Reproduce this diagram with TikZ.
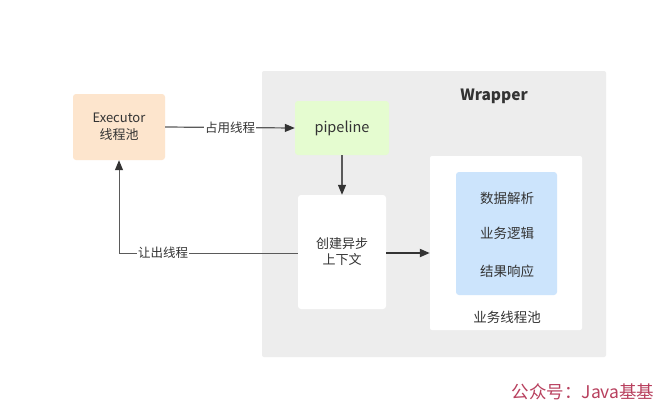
\documentclass[tikz,border=0pt]{standalone}
\usepackage{fontspec}
\setmainfont{Noto Sans CJK SC}
\newfontfamily\wmfont{Noto Sans CJK SC}
\usetikzlibrary{arrows.meta,positioning}
\definecolor{wrapgray}{HTML}{EDEDED}
\definecolor{peach}{HTML}{FDE5CD}
\definecolor{lgreen}{HTML}{E5FCD0}
\definecolor{lblue}{HTML}{CCE4FC}
\definecolor{linegray}{HTML}{5A5A5A}
\definecolor{tipgray}{HTML}{333333}
\definecolor{txt}{HTML}{333333}
\definecolor{wmred}{HTML}{B8405E}
\tikzset{
  x=1pt,y=-1pt,
  box/.style={draw=none,rounded corners=3pt,inner sep=0pt,text=txt,align=center,
    font=\fontsize{13}{17}\selectfont},
  conn/.style={draw=linegray,line width=1.2pt,-{Triangle[length=10pt,width=8pt,color=tipgray]}},
  lbl/.style={fill=white,inner sep=1pt,text=txt,font=\fontsize{12.5}{15}\selectfont},
}
\begin{document}
\begin{tikzpicture}
\useasboundingbox[fill=white] (0,0) rectangle (668,413);
% Wrapper container
\node[box,fill=wrapgray,rounded corners=2pt,minimum width=344pt,minimum height=286pt] (wrap) at (434,214) {};
\node[font=\bfseries\fontsize{15.5}{18}\selectfont,text=txt] (wraplbl) at (494,96) {Wrapper};
% Executor
\node[box,fill=peach,minimum width=92pt,minimum height=66pt] (exec) at (119,127) {Executor\\线程池};
% pipeline
\node[box,fill=lgreen,minimum width=94pt,minimum height=54pt,font=\fontsize{14.5}{17}\selectfont] (pipe) at (342,128) {pipeline};
% async context
\node[box,fill=white,minimum width=88pt,minimum height=114pt] (ctx) at (342,252) {};
\node[text=txt,align=center,font=\fontsize{13}{16}\selectfont] (ctxlbl) at (342,252) {创建异步\\上下文};
% business pool
\node[box,fill=white,rounded corners=2pt,minimum width=152pt,minimum height=174pt] (pool) at (506,243) {};
\node[box,fill=lblue,minimum width=101pt,minimum height=123pt] (biz) at (506.5,233.5) {};
\node[text=txt,font=\fontsize{13.5}{16}\selectfont] (t1) at (507,198) {数据解析};
\node[text=txt,font=\fontsize{13.5}{16}\selectfont] (t2) at (507,233) {业务逻辑};
\node[text=txt,font=\fontsize{13.5}{16}\selectfont] (t3) at (507,271) {结果响应};
\node[text=txt,font=\fontsize{13.5}{16}\selectfont] (poollbl) at (507,317) {业务线程池};
% connectors
\draw[conn] (exec.east) -- node[lbl] (l1) {占用线程} (pipe.west);
\draw[conn] (pipe.south) -- (ctx.north);
\draw[conn,line width=2pt,draw=tipgray] (ctx.east |- 0,253) -- (pool.west |- 0,253);
\coordinate (corner) at (119,253);
\draw[conn,line width=1pt] (ctx.west |- 0,253) -- (corner) -- (exec.south);
\node[lbl] (l2) at (163,253) {让出线程};
% watermark
\node[text=wmred,anchor=east,font=\wmfont\fontsize{17.5}{20}\selectfont] (wm) at (658,392) {公众号：Java基基};
\end{tikzpicture}
\end{document}
